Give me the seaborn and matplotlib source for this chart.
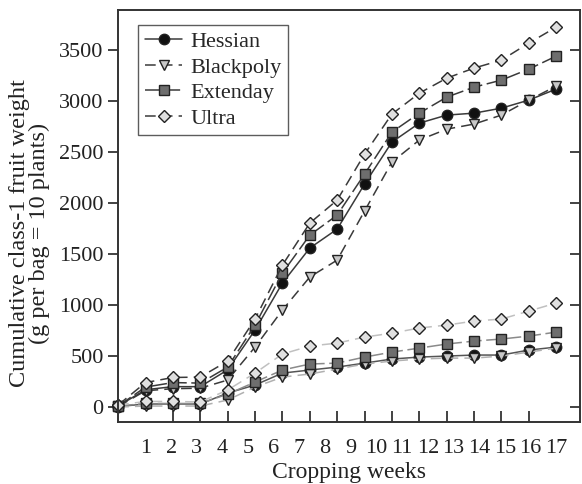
import numpy as np
import pandas as pd
import matplotlib
matplotlib.use("Agg")
import matplotlib.pyplot as plt
import seaborn as sns

# sampling points (index along the cropping period)
points = list(range(17))
week_labels = [str(i) for i in range(1, 18)]
yticks = [0, 500, 1000, 1500, 2000, 2500, 3000, 3500]

hessian_hi = [10, 170, 200, 200, 365, 755, 1216, 1559, 1745, 2186, 2598, 2784, 2863, 2882, 2931, 3010, 3118]
blackpoly_hi = [5, 160, 180, 185, 265, 588, 951, 1275, 1441, 1922, 2402, 2618, 2725, 2775, 2863, 3010, 3147]
extenday_hi = [10, 196, 240, 235, 392, 804, 1314, 1686, 1882, 2284, 2696, 2882, 3039, 3137, 3206, 3314, 3441]
ultra_hi = [20, 240, 290, 294, 451, 863, 1392, 1804, 2029, 2480, 2873, 3078, 3225, 3324, 3402, 3569, 3725]

hessian_lo = [5, 30, 30, 30, 137, 216, 333, 363, 392, 431, 471, 490, 500, 510, 510, 559, 588]
blackpoly_lo = [0, 10, 10, 10, 69, 196, 294, 324, 373, 422, 451, 471, 480, 480, 500, 539, 578]
extenday_lo = [10, 35, 35, 35, 127, 245, 363, 422, 431, 490, 539, 578, 618, 647, 667, 696, 735]
ultra_lo = [20, 55, 55, 50, 167, 333, 520, 598, 627, 686, 725, 775, 804, 843, 863, 941, 1020]

names = ["Hessian", "Blackpoly", "Extenday", "Ultra"]
hi = [hessian_hi, blackpoly_hi, extenday_hi, ultra_hi]
lo = [hessian_lo, blackpoly_lo, extenday_lo, ultra_lo]

styles = {
    "Hessian": dict(marker="o", mfc="#111111", dashes=None, lo_color="#555555"),
    "Blackpoly": dict(marker="v", mfc="#c8c8c8", dashes=(7, 4), lo_color="#b0b0b0"),
    "Extenday": dict(marker="s", mfc="#6e6e6e", dashes=(10, 3), lo_color="#8a8a8a"),
    "Ultra": dict(marker="D", mfc="#e0e0e0", dashes=(7, 4), lo_color="#c0c0c0"),
}
msize = {"o": 7.5, "v": 7.5, "s": 6.8, "D": 6.3}

sns.set_style("ticks")
plt.rcParams["font.family"] = ["Liberation Serif", "DejaVu Serif"]

fig = plt.figure(figsize=(5.82, 4.84), dpi=100)
ax = fig.add_axes([0.203, 0.128, 0.794, 0.851])

def draw(yv, name, color, label):
    st = styles[name]
    kw = dict(color=color, lw=1.1, marker=st["marker"], markersize=msize[st["marker"]],
              markerfacecolor=st["mfc"], markeredgecolor="#222222", markeredgewidth=1.0,
              clip_on=False)
    if st["dashes"]:
        kw["dashes"] = st["dashes"]
    if label:
        sns.lineplot(x=points, y=yv, ax=ax, label=label, **kw)
    else:
        sns.lineplot(x=points, y=yv, ax=ax, legend=False, **kw)

for name, yl in zip(names, lo):
    draw(yl, name, styles[name]["lo_color"], None)
for name, yh in zip(names, hi):
    draw(yh, name, "#3a3a3a", name)

ax.set_xlim(0, 16.88)
ax.set_ylim(-147, 3892)

ax.set_yticks(yticks)
ax.set_yticklabels([str(v) for v in yticks])
ax.tick_params(axis="y", which="major", direction="out", length=7, width=1.2,
               right=True, labelsize=16, colors="#222222")
ax.set_xticks(np.linspace(1, 16, 17))
ax.set_xticklabels(week_labels)
ax.set_xticks(list(range(1, 17)), minor=True)
ax.tick_params(axis="x", which="major", length=0, labelsize=16, pad=12, colors="#222222")
ax.tick_params(axis="x", which="minor", direction="in", length=8, width=1.2, color="#222222")
for t in ax.yaxis.get_ticklines()[1::2]:
    t.set_marker(0)
    t.set_markersize(7)

for s in ax.spines.values():
    s.set_linewidth(1.4)
    s.set_color("#333333")
    s.set_visible(True)

ax.set_xlabel("Cropping weeks", fontsize=17, color="#222222", labelpad=3)
ax.set_ylabel("Cumulative class-1 fruit weight\n(g per bag = 10 plants)", fontsize=17.5,
              color="#222222", linespacing=0.95)
ax.yaxis.set_label_coords(-0.147, 0.459)

leg = ax.legend(loc="upper left", bbox_to_anchor=(0.043, 0.964), fontsize=16, frameon=True,
                fancybox=False, edgecolor="#333333", handlelength=1.7, handletextpad=0.35,
                borderpad=0.3, labelspacing=0.22, borderaxespad=0)
leg.get_frame().set_linewidth(1.0)

fig.savefig("out.png", dpi=100)
